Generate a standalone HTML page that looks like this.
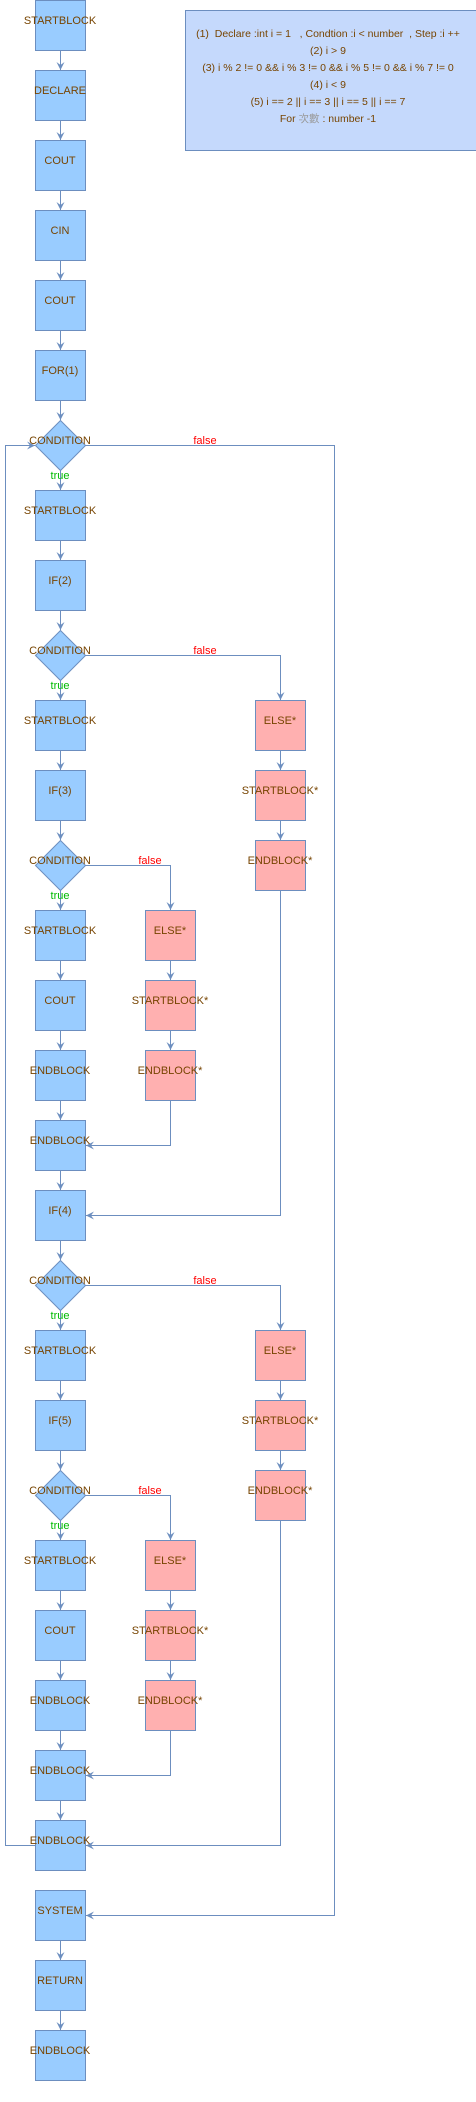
<!DOCTYPE html>
<html><head><meta charset="utf-8">
<style>
html,body{margin:0;padding:0;background:#fff;}
svg{display:block;font-family:"Liberation Sans","Noto Sans CJK TC",sans-serif;}
.b{fill:#99ccff;stroke:#6c8ebf;stroke-width:1;}
.r{fill:#ffb0b0;stroke:#6c8ebf;stroke-width:1;}
.t{fill:#774400;font-size:11px;text-anchor:middle;}
.l{fill:none;stroke:#6c8ebf;stroke-width:1;}
.f{fill:#ff0000;font-size:11px;text-anchor:middle;}
.g{fill:#00bb00;font-size:11px;text-anchor:middle;}
.pre text{white-space:pre;}
</style></head><body>
<svg width="476" height="2102" viewBox="0 0 476 2102" xmlns="http://www.w3.org/2000/svg">
<defs>
<marker id="m" markerWidth="10" markerHeight="10" refX="8" refY="4" orient="auto" markerUnits="userSpaceOnUse">
<path d="M0,0 L8,4 L0,8 L3,4 Z" fill="#6c8ebf"/>
</marker>
</defs>
<rect x="185.5" y="10.5" width="295" height="140" fill="#c5d9fc" stroke="#6c8ebf"/>
<g class="t pre" style="font-size:10.5px">
<text x="328" y="37">(1)  Declare :int i = 1   , Condtion :i &lt; number  , Step :i ++</text>
<text x="328" y="54">(2) i &gt; 9</text>
<text x="328" y="71">(3) i % 2 != 0 &amp;&amp; i % 3 != 0 &amp;&amp; i % 5 != 0 &amp;&amp; i % 7 != 0</text>
<text x="328" y="88">(4) i &lt; 9</text>
<text x="328" y="105">(5) i == 2 || i == 3 || i == 5 || i == 7</text>
<text x="328" y="122">For <tspan fill="#999">次數</tspan> : number -1</text>
</g>

<g class="l" marker-end="url(#m)">
<path d="M60.5,50 V70"/><path d="M60.5,120 V140"/><path d="M60.5,190 V210"/><path d="M60.5,260 V280"/>
<path d="M60.5,330 V350"/><path d="M60.5,400 V420"/><path d="M60.5,470 V490"/><path d="M60.5,540 V560"/>
<path d="M60.5,610 V630"/><path d="M60.5,680 V700"/><path d="M60.5,750 V770"/><path d="M60.5,820 V840"/>
<path d="M60.5,890 V910"/><path d="M60.5,960 V980"/><path d="M60.5,1030 V1050"/><path d="M60.5,1100 V1120"/>
<path d="M60.5,1170 V1190"/><path d="M60.5,1240 V1260"/><path d="M60.5,1310 V1330"/><path d="M60.5,1380 V1400"/>
<path d="M60.5,1450 V1470"/><path d="M60.5,1520 V1540"/><path d="M60.5,1590 V1610"/><path d="M60.5,1660 V1680"/>
<path d="M60.5,1730 V1750"/><path d="M60.5,1800 V1820"/><path d="M60.5,1940 V1960"/><path d="M60.5,2010 V2030"/>
<path d="M280.5,750 V770"/><path d="M280.5,820 V840"/>
<path d="M280.5,1380 V1400"/><path d="M280.5,1450 V1470"/>
<path d="M170.5,960 V980"/><path d="M170.5,1030 V1050"/>
<path d="M170.5,1590 V1610"/><path d="M170.5,1660 V1680"/>
<path d="M85,655.5 H280.5 V700"/>
<path d="M85,865.5 H170.5 V910"/>
<path d="M85,1285.5 H280.5 V1330"/>
<path d="M85,1495.5 H170.5 V1540"/>
<path d="M170.5,1100 V1145.5 H86"/>
<path d="M280.5,890 V1215.5 H86"/>
<path d="M170.5,1730 V1775.5 H86"/>
<path d="M280.5,1520 V1845.5 H86"/>
<path d="M35,1845.5 H5.5 V445.5 H35"/>
<path d="M85,445.5 H334.5 V1915.5 H86"/>
</g>

<g>
<rect class="b" x="35.5" y="0.5" width="50" height="50"/>
<rect class="b" x="35.5" y="70.5" width="50" height="50"/>
<rect class="b" x="35.5" y="140.5" width="50" height="50"/>
<rect class="b" x="35.5" y="210.5" width="50" height="50"/>
<rect class="b" x="35.5" y="280.5" width="50" height="50"/>
<rect class="b" x="35.5" y="350.5" width="50" height="50"/>
<polygon class="b" points="60.5,420.5 85.5,445.5 60.5,470.5 35.5,445.5"/>
<rect class="b" x="35.5" y="490.5" width="50" height="50"/>
<rect class="b" x="35.5" y="560.5" width="50" height="50"/>
<polygon class="b" points="60.5,630.5 85.5,655.5 60.5,680.5 35.5,655.5"/>
<rect class="b" x="35.5" y="700.5" width="50" height="50"/>
<rect class="b" x="35.5" y="770.5" width="50" height="50"/>
<polygon class="b" points="60.5,840.5 85.5,865.5 60.5,890.5 35.5,865.5"/>
<rect class="b" x="35.5" y="910.5" width="50" height="50"/>
<rect class="b" x="35.5" y="980.5" width="50" height="50"/>
<rect class="b" x="35.5" y="1050.5" width="50" height="50"/>
<rect class="b" x="35.5" y="1120.5" width="50" height="50"/>
<rect class="b" x="35.5" y="1190.5" width="50" height="50"/>
<polygon class="b" points="60.5,1260.5 85.5,1285.5 60.5,1310.5 35.5,1285.5"/>
<rect class="b" x="35.5" y="1330.5" width="50" height="50"/>
<rect class="b" x="35.5" y="1400.5" width="50" height="50"/>
<polygon class="b" points="60.5,1470.5 85.5,1495.5 60.5,1520.5 35.5,1495.5"/>
<rect class="b" x="35.5" y="1540.5" width="50" height="50"/>
<rect class="b" x="35.5" y="1610.5" width="50" height="50"/>
<rect class="b" x="35.5" y="1680.5" width="50" height="50"/>
<rect class="b" x="35.5" y="1750.5" width="50" height="50"/>
<rect class="b" x="35.5" y="1820.5" width="50" height="50"/>
<rect class="b" x="35.5" y="1890.5" width="50" height="50"/>
<rect class="b" x="35.5" y="1960.5" width="50" height="50"/>
<rect class="b" x="35.5" y="2030.5" width="50" height="50"/>
<rect class="r" x="255.5" y="700.5" width="50" height="50"/>
<rect class="r" x="255.5" y="770.5" width="50" height="50"/>
<rect class="r" x="255.5" y="840.5" width="50" height="50"/>
<rect class="r" x="145.5" y="910.5" width="50" height="50"/>
<rect class="r" x="145.5" y="980.5" width="50" height="50"/>
<rect class="r" x="145.5" y="1050.5" width="50" height="50"/>
<rect class="r" x="255.5" y="1330.5" width="50" height="50"/>
<rect class="r" x="255.5" y="1400.5" width="50" height="50"/>
<rect class="r" x="255.5" y="1470.5" width="50" height="50"/>
<rect class="r" x="145.5" y="1540.5" width="50" height="50"/>
<rect class="r" x="145.5" y="1610.5" width="50" height="50"/>
<rect class="r" x="145.5" y="1680.5" width="50" height="50"/>
</g>

<g class="t">
<text x="60" y="24">STARTBLOCK</text>
<text x="60" y="94">DECLARE</text>
<text x="60" y="164">COUT</text>
<text x="60" y="234">CIN</text>
<text x="60" y="304">COUT</text>
<text x="60" y="374">FOR(1)</text>
<text x="60" y="444">CONDITION</text>
<text x="60" y="514">STARTBLOCK</text>
<text x="60" y="584">IF(2)</text>
<text x="60" y="654">CONDITION</text>
<text x="60" y="724">STARTBLOCK</text>
<text x="60" y="794">IF(3)</text>
<text x="60" y="864">CONDITION</text>
<text x="60" y="934">STARTBLOCK</text>
<text x="60" y="1004">COUT</text>
<text x="60" y="1074">ENDBLOCK</text>
<text x="60" y="1144">ENDBLOCK</text>
<text x="60" y="1214">IF(4)</text>
<text x="60" y="1284">CONDITION</text>
<text x="60" y="1354">STARTBLOCK</text>
<text x="60" y="1424">IF(5)</text>
<text x="60" y="1494">CONDITION</text>
<text x="60" y="1564">STARTBLOCK</text>
<text x="60" y="1634">COUT</text>
<text x="60" y="1704">ENDBLOCK</text>
<text x="60" y="1774">ENDBLOCK</text>
<text x="60" y="1844">ENDBLOCK</text>
<text x="60" y="1914">SYSTEM</text>
<text x="60" y="1984">RETURN</text>
<text x="60" y="2054">ENDBLOCK</text>
<text x="280" y="724">ELSE*</text>
<text x="280" y="794">STARTBLOCK*</text>
<text x="280" y="864">ENDBLOCK*</text>
<text x="170" y="934">ELSE*</text>
<text x="170" y="1004">STARTBLOCK*</text>
<text x="170" y="1074">ENDBLOCK*</text>
<text x="280" y="1354">ELSE*</text>
<text x="280" y="1424">STARTBLOCK*</text>
<text x="280" y="1494">ENDBLOCK*</text>
<text x="170" y="1564">ELSE*</text>
<text x="170" y="1634">STARTBLOCK*</text>
<text x="170" y="1704">ENDBLOCK*</text>
</g>
<g>
<text class="f" x="205" y="444">false</text>
<text class="g" x="60" y="479">true</text>
<text class="f" x="205" y="654">false</text>
<text class="g" x="60" y="689">true</text>
<text class="f" x="150" y="864">false</text>
<text class="g" x="60" y="899">true</text>
<text class="f" x="205" y="1284">false</text>
<text class="g" x="60" y="1319">true</text>
<text class="f" x="150" y="1494">false</text>
<text class="g" x="60" y="1529">true</text>
</g>
</svg>
</body></html>
